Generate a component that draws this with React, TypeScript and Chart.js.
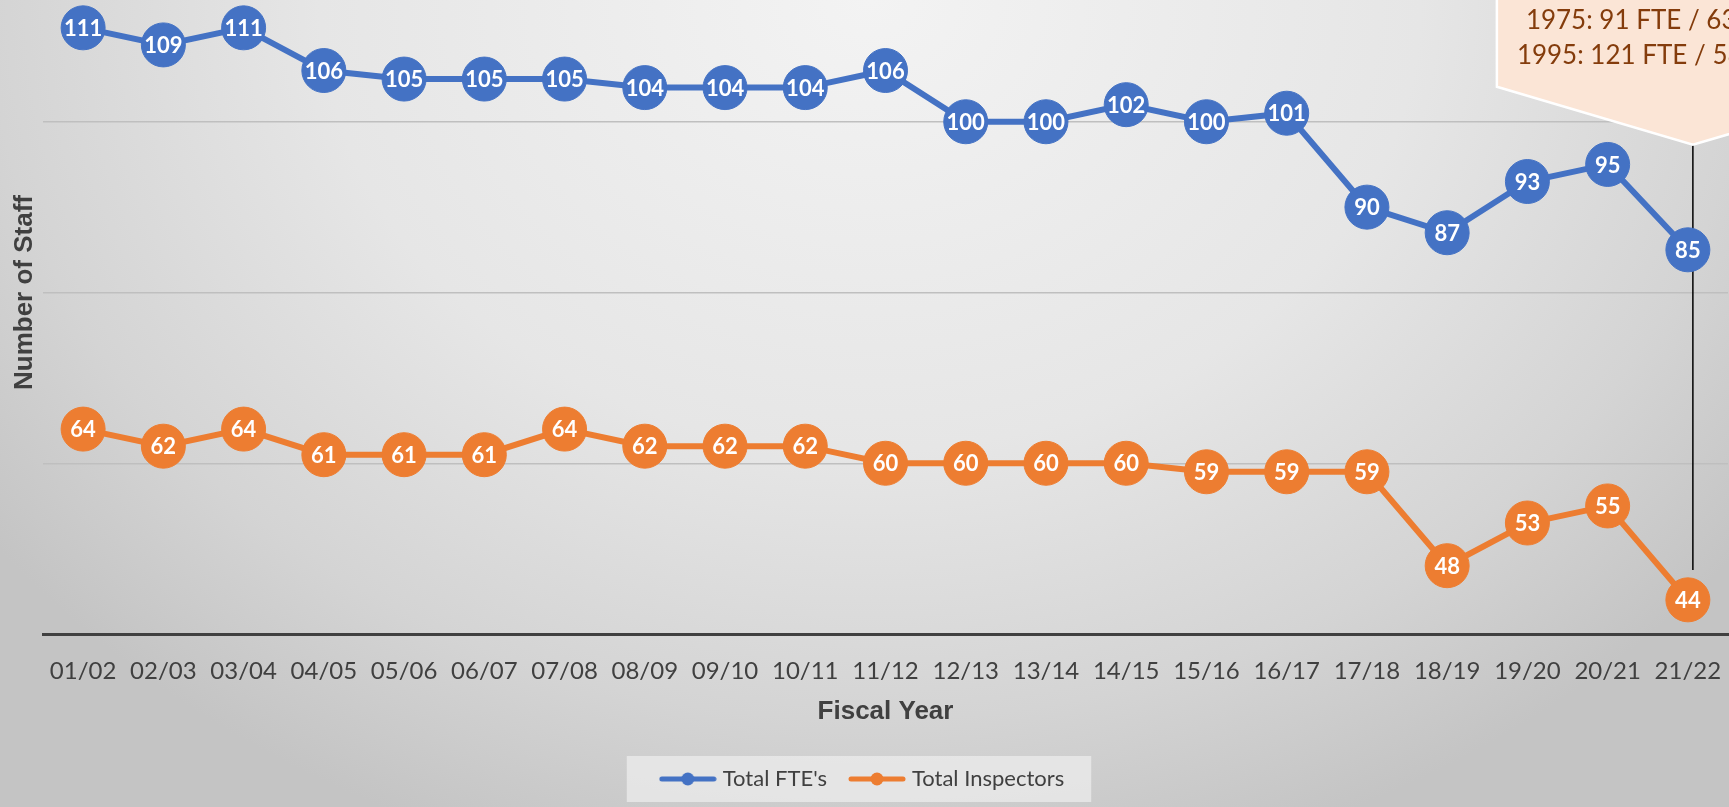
import React, { useEffect, useRef } from "react";
import { Chart, registerables } from "chart.js";

Chart.register(...registerables);

const categories = [
  "01/02", "02/03", "03/04", "04/05", "05/06", "06/07", "07/08", "08/09", "09/10", "10/11",
  "11/12", "12/13", "13/14", "14/15", "15/16", "16/17", "17/18", "18/19", "19/20", "20/21", "21/22",
];
const totalFTE = [111, 109, 111, 106, 105, 105, 105, 104, 104, 104, 106, 100, 100, 102, 100, 101, 90, 87, 93, 95, 85];
const totalInspectors = [64, 62, 64, 61, 61, 61, 64, 62, 62, 62, 60, 60, 60, 60, 59, 59, 59, 48, 53, 55, 44];
const seriesNames = ["Total FTE's", "Total Inspectors"];
const yMin = 40;
const yMax = 120;
const yStep = 20;
const calloutLines = ["1975: 91 FTE / 63 Inspectors", "1995: 121 FTE / 58 Inspectors"];

const BLUE = "#4472C4";
const ORANGE = "#ED7D31";
const TEXT = "#404040";

function makeLegendIcon(color: string): HTMLCanvasElement {
  const c = document.createElement("canvas");
  c.width = 58;
  c.height = 14;
  const ctx = c.getContext("2d")!;
  ctx.strokeStyle = color;
  ctx.lineWidth = 5;
  ctx.lineCap = "round";
  ctx.beginPath();
  ctx.moveTo(3, 7);
  ctx.lineTo(55, 7);
  ctx.stroke();
  ctx.fillStyle = color;
  ctx.beginPath();
  ctx.arc(29, 7, 6.5, 0, Math.PI * 2);
  ctx.fill();
  return c;
}

const legendBoxPlugin = {
  id: "legendBox",
  beforeDraw(chart: any) {
    const boxes = chart.legend && chart.legend.legendHitBoxes;
    if (!boxes || !boxes.length) return;
    const first = boxes[0];
    const last = boxes[boxes.length - 1];
    const cy = first.top + first.height / 2;
    const left = first.left - 37;
    const right = last.left + last.width + 27;
    const ctx = chart.ctx;
    ctx.save();
    ctx.fillStyle = "rgba(236,236,236,0.75)";
    ctx.fillRect(left, cy - 23, right - left, 46);
    ctx.restore();
  },
};

const calloutPlugin = {
  id: "callout",
  beforeDatasetsDraw(chart: any) {
    const xs = chart.scales.x;
    const ys = chart.scales.y;
    const ctx = chart.ctx;
    const tipX = xs.getPixelForValue(categories.length - 1) + 5;
    const tipY = ys.getPixelForValue(97.3);
    const cornerY = ys.getPixelForValue(104.1);
    const lineEnd = ys.getPixelForValue(47.5);
    const half = 196;
    ctx.save();
    ctx.strokeStyle = "#000000";
    ctx.lineWidth = 1.5;
    ctx.beginPath();
    ctx.moveTo(tipX, tipY);
    ctx.lineTo(tipX, lineEnd);
    ctx.stroke();
    ctx.beginPath();
    ctx.moveTo(tipX - half, -20);
    ctx.lineTo(tipX - half, cornerY);
    ctx.lineTo(tipX, tipY);
    ctx.lineTo(tipX + half, cornerY);
    ctx.lineTo(tipX + half, -20);
    ctx.closePath();
    ctx.fillStyle = "#FBE5D6";
    ctx.fill();
    ctx.strokeStyle = "#FFFFFF";
    ctx.lineWidth = 2.5;
    ctx.stroke();
    ctx.fillStyle = "#843C0C";
    ctx.font = "26px Lato";
    ctx.textAlign = "left";
    ctx.textBaseline = "middle";
    ctx.fillText(calloutLines[0], tipX - 167, 70);
    ctx.fillText(calloutLines[1], tipX - 176, 105);
    ctx.restore();
  },
};

const dataLabelPlugin = {
  id: "dataLabels",
  afterDatasetsDraw(chart: any) {
    const ctx = chart.ctx;
    ctx.save();
    ctx.fillStyle = "#FFFFFF";
    ctx.font = "bold 22px Lato";
    ctx.textAlign = "center";
    ctx.textBaseline = "middle";
    chart.data.datasets.forEach((ds: any, i: number) => {
      const meta = chart.getDatasetMeta(i);
      meta.data.forEach((pt: any, j: number) => {
        ctx.fillText(String(ds.data[j]), pt.x, pt.y + 1);
      });
    });
    ctx.restore();
  },
};

export default function App() {
  const ref = useRef<HTMLCanvasElement | null>(null);

  useEffect(() => {
    if (!ref.current) return;
    const icons = [makeLegendIcon(BLUE), makeLegendIcon(ORANGE)];
    const chart = new Chart(ref.current, {
      type: "line",
      data: {
        labels: categories,
        datasets: [
          {
            label: seriesNames[0],
            data: totalFTE,
            borderColor: BLUE,
            backgroundColor: BLUE,
            borderWidth: 6,
            pointRadius: 22,
            pointHoverRadius: 22,
            pointBackgroundColor: BLUE,
            pointBorderColor: BLUE,
            pointBorderWidth: 1,
            tension: 0,
            clip: false as any,
          },
          {
            label: seriesNames[1],
            data: totalInspectors,
            borderColor: ORANGE,
            backgroundColor: ORANGE,
            borderWidth: 6,
            pointRadius: 22,
            pointHoverRadius: 22,
            pointBackgroundColor: ORANGE,
            pointBorderColor: ORANGE,
            pointBorderWidth: 1,
            tension: 0,
            clip: false as any,
          },
        ],
      },
      options: {
        responsive: false,
        animation: false,
        events: [],
        layout: { autoPadding: false, padding: { left: 0, right: 1, top: 0, bottom: 7 } },
        scales: {
          x: {
            offset: true,
            grid: { display: false, drawTicks: false },
            border: { display: true, color: "#404040", width: 3 },
            ticks: {
              color: TEXT,
              font: { family: "Lato", size: 24 },
              padding: 23,
              maxRotation: 0,
              autoSkip: false,
            },
            title: {
              display: true,
              text: "Fiscal Year",
              color: TEXT,
              font: { family: "Liberation Sans", size: 26, weight: "bold" },
              padding: { top: 8, bottom: 15 },
            },
            afterFit(scale: any) {
              scale.height = 108;
              scale.paddingLeft = 0;
              scale.paddingRight = 0;
            },
          },
          y: {
            min: yMin,
            max: yMax,
            ticks: { display: false, stepSize: yStep },
            grid: {
              drawTicks: false,
              color: (ctx: any) => (ctx.tick && ctx.tick.value === yMin ? "rgba(0,0,0,0)" : "#BFBFBF"),
              lineWidth: 1.5,
            },
            border: { display: false },
            title: {
              display: true,
              text: "Number of Staff",
              color: TEXT,
              font: { family: "Liberation Sans", size: 26, weight: "bold" },
              padding: { top: 9, bottom: 0 },
            },
            afterFit(scale: any) {
              scale.width = 43;
            },
          },
        },
        plugins: {
          tooltip: { enabled: false },
          legend: {
            display: true,
            position: "bottom",
            labels: {
              color: TEXT,
              font: { family: "Lato", size: 22 },
              usePointStyle: true,
              pointStyleWidth: 48,
              padding: 26,
              generateLabels(chart: any) {
                const items = Chart.defaults.plugins.legend.labels.generateLabels(chart);
                return items.map((it: any, i: number) => ({ ...it, pointStyle: icons[i] }));
              },
            },
          },
        },
      },
      plugins: [legendBoxPlugin, calloutPlugin, dataLabelPlugin],
    });
    return () => chart.destroy();
  }, []);

  return (
    <div
      style={{
        position: "fixed",
        left: 0,
        top: 0,
        width: 1729,
        height: 807,
        overflow: "hidden",
        background:
          "radial-gradient(ellipse 1100px 900px at 870px 0px, #f3f3f3 0%, #e6e6e6 50%, #d4d4d4 80%, #c4c4c4 100%)",
      }}
    >
      <canvas
        ref={ref}
        width={1729}
        height={856}
        style={{ position: "absolute", left: 0, top: -49, width: 1729, height: 856 }}
      />
    </div>
  );
}
